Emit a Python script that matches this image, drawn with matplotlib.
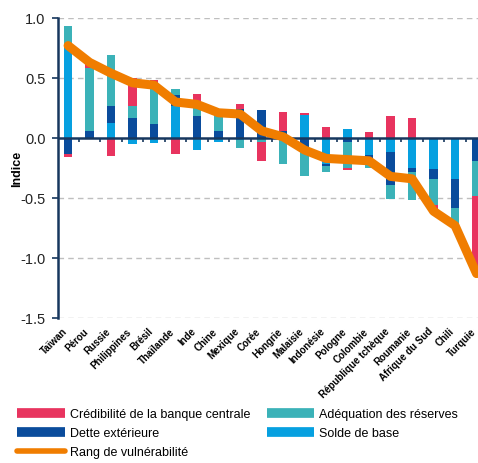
import matplotlib
matplotlib.use("Agg")
import matplotlib.pyplot as plt
import matplotlib.transforms as mtransforms
from matplotlib.lines import Line2D
import numpy as np

plt.rcParams["font.family"] = ["Liberation Sans", "DejaVu Sans"]

countries = ["Taïwan", "Pérou", "Russie", "Philippines", "Brésil", "Thaïlande",
             "Inde", "Chine", "Mexique", "Corée", "Hongrie", "Malaisie",
             "Indonésie", "Pologne", "Colombie", "République tchèque",
             "Roumanie", "Afrique du Sud", "Chili", "Turquie"]

# index components (stacked in this order away from zero)
solde = [0.77, 0.00, 0.125, -0.05, -0.04, 0.27, -0.10, -0.03, -0.02, 0.00,
         0.00, 0.195, -0.22, 0.075, -0.14, -0.12, -0.25, -0.26, -0.34, 0.00]
dette = [-0.13, 0.06, 0.145, 0.17, 0.12, 0.09, 0.18, 0.06, 0.24, 0.23,
         0.06, -0.08, -0.01, -0.035, -0.04, -0.27, -0.03, -0.08, -0.24, -0.19]
adequation = [0.16, 0.52, 0.42, 0.10, 0.33, 0.05, 0.12, 0.13, -0.06, -0.03,
              -0.22, -0.24, -0.05, -0.215, -0.07, -0.12, -0.24, -0.22, -0.14, -0.29]
credibilite = [-0.03, 0.04, -0.15, 0.23, 0.03, -0.13, 0.07, 0.005, 0.04, -0.16,
               0.16, 0.015, 0.095, -0.015, 0.047, 0.18, 0.17, -0.03, -0.01, -0.64]
rang = [0.77, 0.63, 0.54, 0.46, 0.44, 0.30, 0.28, 0.21, 0.20, 0.06,
        0.01, -0.10, -0.17, -0.18, -0.19, -0.32, -0.34, -0.61, -0.73, -1.13]

c_cred = "#E8345F"
c_adeq = "#3BB2B8"
c_dette = "#0A4C9C"
c_solde = "#06A0E0"
c_rang = "#F07D00"
navy = "#17375E"

series = [(solde, c_solde), (dette, c_dette), (adequation, c_adeq), (credibilite, c_cred)]

fig = plt.figure(figsize=(4.78, 4.64), dpi=100)
ax = fig.add_axes([58 / 478, 1 - 319 / 464, 425 / 478, 300 / 464])

x = np.arange(len(countries))
pos = np.zeros(len(countries))
neg = np.zeros(len(countries))
for vals, col in series:
    v = np.array(vals)
    base = np.where(v >= 0, pos, neg)
    ax.bar(x, v, bottom=base, width=0.4, color=col, zorder=3)
    pos = pos + np.clip(v, 0, None)
    neg = neg + np.clip(v, None, 0)

ax.plot(x, rang, color=c_rang, lw=6.5, solid_capstyle="round",
        solid_joinstyle="round", zorder=5)

ax.set_xlim(-0.47, 19.3)
ax.set_ylim(-1.5, 1.0)
ax.set_yticks([1.0, 0.5, 0.0, -0.5, -1.0, -1.5])
ax.set_yticklabels(["1.0", "0.5", "0.0", "-0.5", "-1.0", "-1.5"], fontsize=10.5)
for yv in [1.0, 0.5, -0.5, -1.0, -1.5]:
    ax.axhline(yv, color="#BFBFBF", lw=1, dashes=(4, 3), zorder=1)
ax.axhline(0, color=navy, lw=1.8, zorder=4)
ax.vlines(x[:-1] + 0.5, 0, -0.03, color=navy, lw=1.2, zorder=4)

for s in ["top", "right", "bottom"]:
    ax.spines[s].set_visible(False)
ax.spines["left"].set_color(navy)
ax.spines["left"].set_linewidth(1.8)
ax.tick_params(axis="y", colors=navy, length=4, width=1.2, pad=5,
               labelcolor="#222222")

ax.set_xticks(x)
ax.set_xticklabels(countries, rotation=45, ha="right", va="center",
                   rotation_mode="anchor", fontsize=7, fontweight="bold")
ax.tick_params(axis="x", length=0, pad=8)
# nudge the slanted names a little to the left
shift = mtransforms.ScaledTranslation(-2.5 / 100, 0, fig.dpi_scale_trans)
for lab in ax.get_xticklabels():
    lab.set_transform(lab.get_transform() + shift)

ax.set_ylabel("Indice", fontsize=9, fontweight="bold")
ax.yaxis.set_label_coords(-0.082, 0.5)

handles = [
    Line2D([], [], color=c_cred, lw=7, solid_capstyle="butt"),
    Line2D([], [], color=c_dette, lw=7, solid_capstyle="butt"),
    Line2D([], [], color=c_rang, lw=4, solid_capstyle="round"),
    Line2D([], [], color=c_adeq, lw=7, solid_capstyle="butt"),
    Line2D([], [], color=c_solde, lw=7, solid_capstyle="butt"),
]
labels = ["Crédibilité de la banque centrale", "Dette extérieure",
          "Rang de vulnérabilité", "Adéquation des réserves", "Solde de base"]
fig.legend(handles, labels, ncol=2, loc="upper left",
           bbox_to_anchor=(17 / 478, 1 - 409 / 464), frameon=False,
           fontsize=9, handlelength=3.8, handletextpad=0.4,
           columnspacing=1.35, labelspacing=0.57, borderpad=0, borderaxespad=0)

fig.savefig("out.png", dpi=100)
